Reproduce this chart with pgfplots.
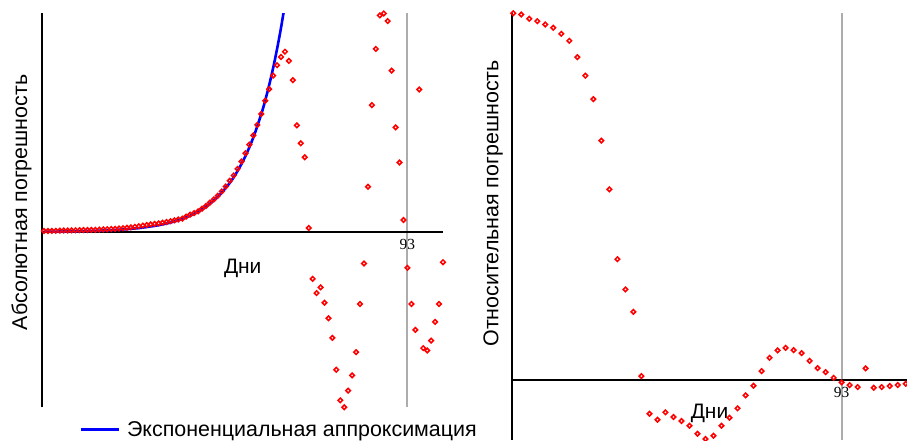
\documentclass[border=0pt]{standalone}
\usepackage{fontspec}
\setmainfont{Liberation Sans}
\newfontfamily\serifnum{Liberation Serif}
\usepackage{pgfplots}
\pgfplotsset{compat=1.18}
\pgfplotstableread{
d Y
1 1.0
2 1.0
3 1.1
4 1.2
5 1.3
6 1.4
7 1.5
8 1.6
9 1.7
10 1.8
11 1.9
12 2.0
13 2.1
14 2.2
15 2.4
16 2.6
17 2.8
18 3.0
19 3.2
20 3.5
21 3.8
22 4.2
23 4.6
24 5.2
25 5.8
26 6.4
27 7.0
28 7.6
29 8.1
30 8.6
31 9.2
32 10.0
33 10.8
34 11.7
35 12.5
36 13.4
37 15.4
38 17.4
39 19.0
40 20.7
41 23.4
42 26.0
43 29.4
44 32.7
45 36.4
46 40.7
47 45.7
48 51.4
49 56.7
50 63.4
51 70.7
52 79.0
53 87.7
54 97.0
55 107.4
56 118.4
57 131.7
58 143.4
59 157.0
60 167.4
61 175.7
62 181.0
63 171.7
64 152.4
65 107.0
66 89.0
67 75.0
68 4.0
69 -47.0
70 -61.3
71 -55.6
72 -71.0
73 -86.6
74 -106.3
75 -138.3
76 -169.0
77 -176.0
78 -159.3
79 -144.0
80 -120.6
81 -72.3
82 -31.6
83 45.4
84 127.4
85 183.7
86 217.4
87 219.4
88 211.7
89 162.0
90 105.0
91 69.7
92 12.0
93 -36.0
94 -72.3
95 -98.3
96 143.0
97 -116.6
98 -119.0
99 -109.0
100 -90.3
101 -72.3
102 -30.3
}\abserr
\pgfplotstableread{
d Y
1 0.28
5 0.43
10 0.75
15 1.30
20 2.26
25 3.91
30 6.78
33 9.43
36 13.11
39 18.24
42 25.4
45 35.3
48 49.1
50 61.2
52 76.2
54 95.0
56 118.3
57 132.1
58 147.5
59 164.6
60 183.8
61 205.1
62 229.0
}\expfit
\pgfplotstableread{
d Y
52 367.3
53 366.0
54 361.7
55 359.3
56 356.0
57 352.7
58 346.7
59 339.7
60 323.3
61 304.7
62 281.3
63 239.7
64 191.0
65 121.0
66 90.7
67 68.3
68 4.0
69 -33.7
70 -39.7
71 -32.3
72 -37.0
73 -41.0
74 -45.7
75 -53.7
76 -59.0
77 -55.7
78 -45.7
79 -37.7
80 -28.3
81 -15.3
82 -5.7
83 9.0
84 22.3
85 29.7
86 32.3
87 30.0
88 27.0
89 19.3
90 12.0
91 8.0
92 2.3
93 -2.3
94 -5.0
95 -7.0
96 11.7
97 -7.7
98 -7.0
99 -6.0
100 -5.0
101 -3.7
}\relerr
\begin{document}
\begin{tikzpicture}[x=1bp,y=1bp]
\pgfplotsset{
  common/.style={
    scale only axis,
    axis x line=middle,
    axis y line=left,
    axis line style={-, black, line width=1.4bp},
    xtick={93}, ytick=\empty,
    major tick length=0pt,
    xmajorgrids, grid style={gray!65, line width=2bp},
    /pgf/number format/assume math mode=true,
    tick label style={font=\serifnum\fontsize{15.5}{15.5}\selectfont},
    xticklabel style={yshift=-4bp},
    clip marker paths=false,
    ylabel style={font=\fontsize{21.5}{21.5}\selectfont, anchor=center},
  },
  errmark/.style={only marks, mark=square, mark size=1.6bp,
    mark options={draw=red, fill=white, line width=1.55bp, rotate=45}},
}
% left axis
\begin{axis}[common,
  at={(42bp,33.7bp)}, anchor=south west,
  width=401bp, height=394bp,
  xmin=0.49, xmax=102.0, ymin=-176, ymax=219.5,
  ylabel={Абсолютная погрешность},
  ylabel style={at={(axis description cs:-0.0511,0.52)}},
  legend style={at={(axis description cs:0.093,-0.057)}, anchor=west,
    draw=none, fill=none, font=\fontsize{21.5}{21.5}\selectfont,
    legend cell align=left, inner sep=0pt},
  legend image code/.code={\draw[#1] (0bp,0bp) -- (38bp,0bp);},
]
\addplot[errmark, forget plot] table[x=d,y=Y] {\abserr};
\addplot[blue, line width=2.6bp, smooth] table[x=d,y=Y] {\expfit};
\addlegendentry{\hspace{5bp}Экспоненциальная аппроксимация}
\node[font=\fontsize{21}{21}\selectfont] at (axis cs:51.3,0) [yshift=-36bp] {Дни};
\end{axis}
% right axis
\begin{axis}[common,
  at={(512bp,1bp)}, anchor=south west,
  width=395bp, height=427bp,
  xmin=51.84, xmax=101.16, ymin=-60, ymax=367.5,
  ylabel={Относительная погрешность},
  ylabel style={at={(axis description cs:-0.0481,0.554)}},
]
\addplot[errmark] table[x=d,y=Y] {\relerr};
\node[font=\fontsize{21}{21}\selectfont] at (axis cs:76.5,0) [yshift=-33bp] {Дни};
\end{axis}
\pgfresetboundingbox
\path[use as bounding box] (0,0) rectangle (907bp,441bp);
\end{tikzpicture}
\end{document}
